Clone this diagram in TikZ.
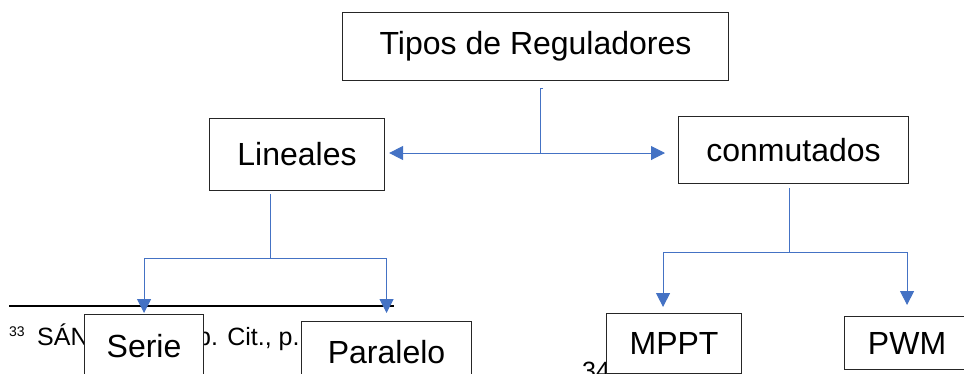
\documentclass[tikz,border=0pt]{standalone}
\usepackage{fontspec}
\setmainfont{Liberation Sans}
\usetikzlibrary{arrows.meta,positioning}
\definecolor{linkblue}{HTML}{4472C4}

\begin{document}
\begin{tikzpicture}[x=1pt,y=-1pt,
		box/.style={draw=black!85,line width=1.1pt,fill=white,anchor=north west,inner sep=0pt,font=\fontsize{32}{38}\selectfont},
		link/.style={draw=linkblue,line width=1pt},
		arr/.style={link,-{Triangle[length=14pt,width=14pt]}},
		note/.style={inner sep=0pt,font=\fontsize{25}{30}\selectfont}]
	\path[use as bounding box,clip] (0,0) rectangle (964,373);

	% footnote rule and text behind the lower boxes
	\draw[line width=1.3pt] (9,306) -- (394,306);
	\node[inner sep=0pt,anchor=north west,font=\fontsize{14}{16}\selectfont] (n33) at (9,327) {33};
	\node[note,anchor=base west] (fnA) at (37,345) {SÁN};
	\node[note,anchor=base west] (fnB) at (197,345) {p. Cit., p.};
	\node[note,anchor=north west] (n34) at (582,362) {34};

	\node[box,minimum width=386pt,minimum height=68pt] (tipos) at (342,12) {Tipos de Reguladores};
	\node[box,minimum width=175pt,minimum height=72pt] (lin) at (209,118) {Lineales};
	\node[box,minimum width=230pt,minimum height=67pt] (conm) at (678,116) {conmutados};
	\node[box,minimum width=119pt,minimum height=64pt] (serie) at (84,314) {Serie};
	\node[box,minimum width=170pt,minimum height=62pt] (par) at (301,321) {Paralelo};
	\node[box,minimum width=135pt,minimum height=60pt] (mppt) at (606,313) {MPPT};
	\node[box,minimum width=125pt,minimum height=53pt] (pwm) at (844,316) {PWM};

	% top branch
	\coordinate (top) at (540,88);
	\coordinate (mid) at (540,153);
	\draw[link] ([xshift=3pt]top) -- (top) -- (mid);
	\draw[arr,shorten >=4pt] (mid) -- (mid -| lin.east);
	\draw[arr,shorten >=13pt] (mid) -- (mid -| conm.west);

	% lineales branch
	\coordinate (lj) at (270,258);
	\draw[link,shorten <=3pt] (lin.south -| lj) -- (lj);
	\draw[arr,shorten >=1pt] (lj) -| (serie.north);
	\draw[arr,shorten >=8pt] (lj) -| (par.north);

	% conmutados branch
	\coordinate (cj) at (789,252);
	\draw[link,shorten <=4pt] (conm.south -| cj) -- (cj);
	\draw[arr,shorten >=6pt] (cj) -| ([xshift=-11pt]mppt.north);
	\draw[arr,shorten >=11pt] (cj) -| (pwm.north);
\end{tikzpicture}
\end{document}
